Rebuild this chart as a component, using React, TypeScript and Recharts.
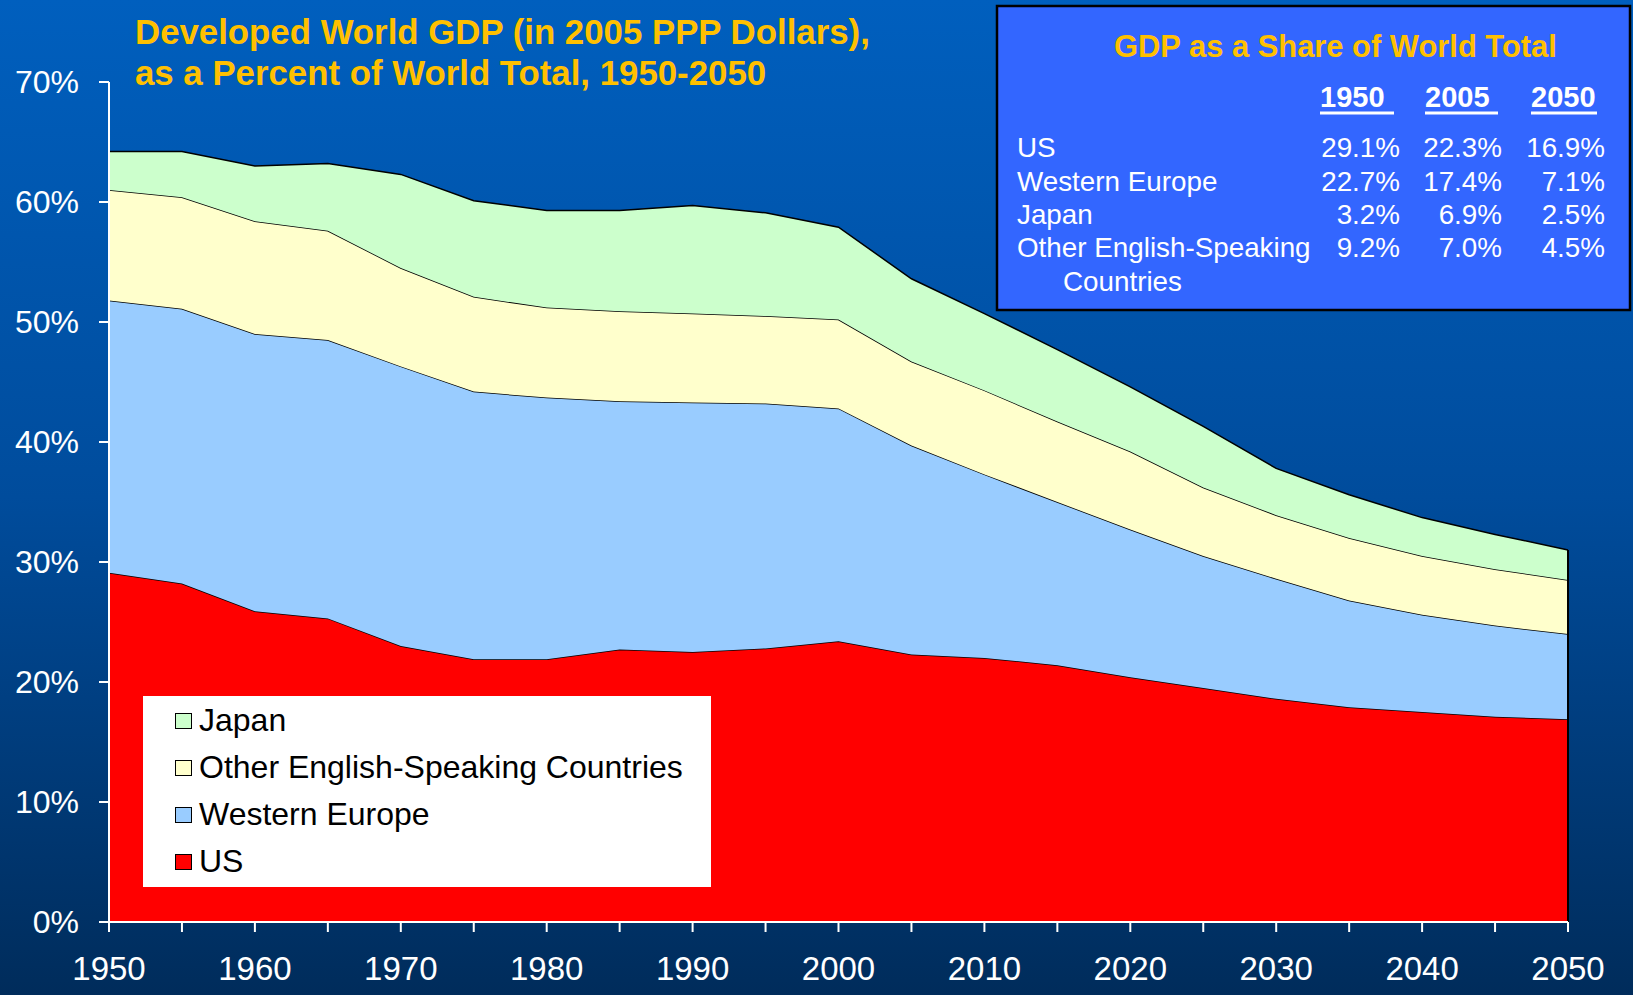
import React from "react"
import { AreaChart, Area, XAxis, YAxis, Legend, ReferenceLine } from "recharts"

const years = [1950, 1955, 1960, 1965, 1970, 1975, 1980, 1985, 1990, 1995, 2000, 2005, 2010, 2015, 2020, 2025, 2030, 2035, 2040, 2045, 2050]
const us = [29.1, 28.2, 25.9, 25.3, 23.0, 21.9, 21.9, 22.7, 22.5, 22.8, 23.4, 22.3, 22.0, 21.4, 20.4, 19.5, 18.6, 17.9, 17.5, 17.1, 16.9]
const westernEurope = [22.7, 22.9, 23.1, 23.2, 23.3, 22.3, 21.8, 20.7, 20.8, 20.4, 19.4, 17.4, 15.3, 13.6, 12.3, 11.0, 10.0, 8.9, 8.1, 7.6, 7.1]
const otherEnglish = [9.2, 9.3, 9.4, 9.1, 8.2, 7.9, 7.5, 7.5, 7.4, 7.3, 7.4, 7.0, 7.0, 6.7, 6.5, 5.7, 5.3, 5.2, 4.9, 4.7, 4.5]
const japan = [3.2, 3.8, 4.6, 5.6, 7.8, 8.0, 8.1, 8.4, 9.0, 8.6, 7.7, 6.9, 6.4, 6.0, 5.4, 5.1, 3.9, 3.6, 3.2, 2.9, 2.5]

const yTicks = [0, 10, 20, 30, 40, 50, 60, 70]

// inset table
const tableYears = ["1950", "2005", "2050"]
const tableRows = [
  { label: "US", values: ["29.1%", "22.3%", "16.9%"] },
  { label: "Western Europe", values: ["22.7%", "17.4%", "7.1%"] },
  { label: "Japan", values: ["3.2%", "6.9%", "2.5%"] },
  { label: "Other English-Speaking", values: ["9.2%", "7.0%", "4.5%"] },
]

const series = [
  { key: "us", name: "US", color: "#FF0000" },
  { key: "we", name: "Western Europe", color: "#99CCFF" },
  { key: "other", name: "Other English-Speaking Countries", color: "#FFFFCC" },
  { key: "japan", name: "Japan", color: "#CCFFCC" },
]

const data = years.map((year, i) => ({
  year,
  us: us[i],
  we: westernEurope[i],
  other: otherEnglish[i],
  japan: japan[i],
}))

const last = years.length - 1
const lastTotal = us[last] + westernEurope[last] + otherEnglish[last] + japan[last]

const FONT = "'Liberation Sans', Arial, sans-serif"
const GOLD = "#FFC000"

function XTick(props: any) {
  const { x, y, payload } = props
  if (payload.value % 10 !== 0) return <g />
  return (
    <text x={x} y={y} dy={46} textAnchor="middle" fill="#fff" fontSize={33} fontFamily={FONT}>
      {payload.value}
    </text>
  )
}

function LegendBox() {
  const items = [...series].reverse()
  return (
    <div style={{ width: 568, height: 191, background: "#fff", paddingTop: 1, boxSizing: "border-box" }}>
      {items.map((s) => (
        <div key={s.key} style={{ height: 47, display: "flex", alignItems: "center", fontFamily: FONT, fontSize: 32, color: "#000" }}>
          <span
            style={{
              display: "inline-block",
              width: 15,
              height: 14,
              marginLeft: 32,
              marginRight: 7,
              background: s.color,
              border: "1.5px solid #000",
            }}
          />
          <span>{s.name}</span>
        </div>
      ))}
    </div>
  )
}

export default function App() {
  const colX = [1400, 1502, 1605]
  const headX = [1320, 1425, 1531]
  const headW = [74, 73, 66]
  const rowY = [157, 191, 224, 257]
  return (
    <div
      style={{
        position: "absolute",
        left: 0,
        top: 0,
        width: 1633,
        height: 995,
        background: "linear-gradient(to bottom, #005FBE 0%, #004C9C 50%, #002C5B 100%)",
        overflow: "hidden",
      }}
    >
      <AreaChart width={1633} height={995} data={data} margin={{ top: 82, right: 65, bottom: 13, left: 9 }}>
        {series.map((s) => (
          <Area
            key={s.key}
            type="linear"
            dataKey={s.key}
            name={s.name}
            stackId="1"
            stroke="#000"
            strokeWidth={1.5}
            fill={s.color}
            fillOpacity={1}
            dot={false}
            activeDot={false}
            isAnimationActive={false}
          />
        ))}
        <ReferenceLine
          segment={[{ x: 2050, y: 0 }, { x: 2050, y: lastTotal }]}
          stroke="#000"
          strokeWidth={2}
        />
        <XAxis
          dataKey="year"
          type="number"
          domain={[1950, 2050]}
          ticks={years}
          height={60}
          axisLine={{ stroke: "#fff", strokeWidth: 2 }}
          tickLine={{ stroke: "#fff", strokeWidth: 2 }}
          tickSize={10}
          tick={<XTick />}
          interval={0}
        />
        <YAxis
          type="number"
          domain={[0, 70]}
          ticks={yTicks}
          width={100}
          axisLine={{ stroke: "#fff", strokeWidth: 2 }}
          tickLine={{ stroke: "#fff", strokeWidth: 2 }}
          tickSize={10}
          tickMargin={20}
          tickFormatter={(v: number) => `${v}%`}
          tick={{ fill: "#fff", fontSize: 32, fontFamily: FONT }}
          interval={0}
        />
        <Legend
          layout="vertical"
          align="center"
          verticalAlign="middle"
          content={() => <LegendBox />}
          wrapperStyle={{ left: 143, top: 696, width: 568, height: 191 }}
        />
      </AreaChart>

      <svg width={1633} height={995} style={{ position: "absolute", left: 0, top: 0, pointerEvents: "none" }}>
        <text x={135} y={44} fill={GOLD} fontSize={34.8} fontWeight="bold" fontFamily={FONT}>
          Developed World GDP (in 2005 PPP Dollars),
        </text>
        <text x={135} y={85} fill={GOLD} fontSize={34.8} fontWeight="bold" fontFamily={FONT}>
          as a Percent of World Total, 1950-2050
        </text>

        <rect x={997} y={6} width={633} height={304} fill="#3366FF" stroke="#000" strokeWidth={2.5} />
        <text x={1114} y={57} fill={GOLD} fontSize={30.9} fontWeight="bold" fontFamily={FONT}>
          GDP as a Share of World Total
        </text>
        {tableYears.map((yr, i) => (
          <g key={yr}>
            <text x={headX[i]} y={107} fill="#fff" fontSize={29} fontWeight="bold" fontFamily={FONT}>
              {yr}
            </text>
            <rect x={headX[i]} y={111.5} width={headW[i]} height={3} fill="#fff" />
          </g>
        ))}
        {tableRows.map((row, r) => (
          <g key={row.label}>
            <text x={1017} y={rowY[r]} fill="#fff" fontSize={27.8} fontFamily={FONT}>
              {row.label}
            </text>
            {row.values.map((v, c) => (
              <text key={c} x={colX[c]} y={rowY[r]} fill="#fff" fontSize={27.8} fontFamily={FONT} textAnchor="end">
                {v}
              </text>
            ))}
          </g>
        ))}
        <text x={1063} y={291} fill="#fff" fontSize={27.8} fontFamily={FONT}>
          Countries
        </text>
      </svg>
    </div>
  )
}
